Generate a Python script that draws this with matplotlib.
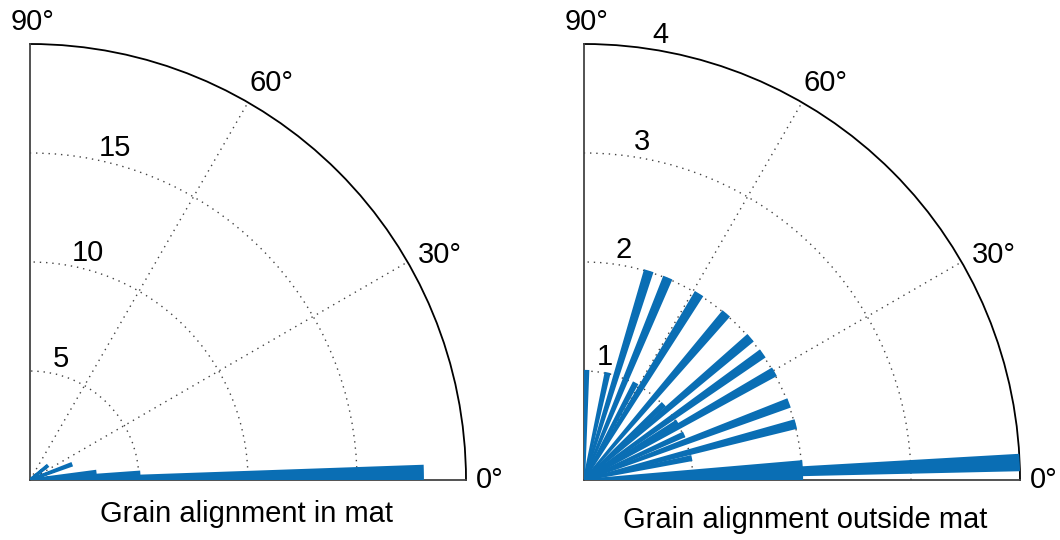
import numpy as np
import matplotlib
matplotlib.use("Agg")
import matplotlib.pyplot as plt

plt.rcParams['font.family'] = ['Liberation Sans', 'DejaVu Sans']

# ---- data ----
left_angles = [1.0, 3.1, 6.5, 20.5, 39.0]          # bin centres, degrees
left_counts = [18, 5, 3, 2, 1]
left_rticks = [5, 10, 15]
left_rmax = 20
left_title = "Grain alignment in mat"

right_angles = [0.8, 2.3, 3.9, 11.5, 14.8, 20.6, 24.5, 29.6, 31.6, 35.3, 40.5,
                43.5, 49.5, 58.3, 62.0, 67.5, 72.8, 77.6, 88.8]
right_counts = [2, 4, 2, 1, 2, 2, 1, 2, 1, 2, 2, 1, 2, 2, 1, 2, 2, 1, 1]
right_rticks = [1, 2, 3, 4]
right_rmax = 4
right_title = "Grain alignment outside mat"

theta_labels = ["0°", "30°", "60°", "90°"]
bin_width = 2.0

BLUE = '#0A6EB4'
W, H = 1060, 540
fig = plt.figure(figsize=(W / 100, H / 100), dpi=100)

# label placement (angle in degrees, radius as fraction of rmax)
LAB_ANG = [0.0, 28.8, 58.7, 89.7]
LAB_RAD = [1.055, 1.072, 1.065, 1.05]


def make(cx, cy, size, angles, counts, rticks, rmax, title, label_angle,
         label_off, title_xy, show_last, edge_lw):
    ax = fig.add_axes([cx / W, (H - cy) / H, size / W, size / H],
                      projection='polar')
    ax.set_thetamin(0)
    ax.set_thetamax(90)
    ax.set_rlim(0, rmax)
    ax.bar(np.deg2rad(angles), counts, width=np.deg2rad(bin_width),
           color=BLUE, edgecolor=BLUE, linewidth=edge_lw, align='center',
           zorder=3)
    grid_r = [r for r in rticks if r < rmax]
    ax.set_rgrids(grid_r, labels=[])
    ax.set_thetagrids([30, 60], labels=[])
    ax.grid(True, color='#444444', linestyle=(0, (1, 3.5)), linewidth=1.0)
    ax.spines['polar'].set_color('black')
    ax.spines['polar'].set_linewidth(1.3)
    for s in ('start', 'end'):
        ax.spines[s].set_color('#444444')
        ax.spines[s].set_linewidth(1.3)
    ax.tick_params(length=0)
    for a, f, lab in zip(LAB_ANG, LAB_RAD, theta_labels):
        ax.text(np.deg2rad(a), rmax * f, lab, ha='center', va='center',
                fontsize=21, clip_on=False)
    shown = rticks if show_last else grid_r
    for r in shown:
        ax.text(np.deg2rad(label_angle), r + label_off * rmax, str(r),
                ha='center', va='center', fontsize=21, clip_on=False)
    fig.text(title_xy[0] / W, 1 - title_xy[1] / H, title, ha='center',
             va='center', fontsize=21)
    return ax


make(30, 480, 436, left_angles, left_counts, left_rticks, left_rmax,
     left_title, 75.6, 0.037, (247, 514), False, 2.2)
make(584, 480, 436, right_angles, right_counts, right_rticks, right_rmax,
     right_title, 80.2, 0.036, (805, 520), True, 1.6)

fig.savefig('out.png', dpi=100)
